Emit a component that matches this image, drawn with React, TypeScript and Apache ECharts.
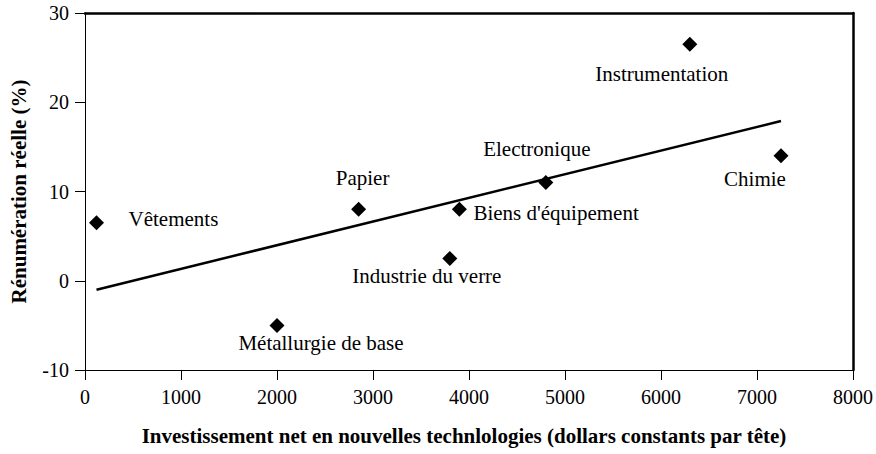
import React, { useEffect, useRef } from "react";
import * as echarts from "echarts";

const industries = [
  "Vêtements",
  "Métallurgie de base",
  "Papier",
  "Industrie du verre",
  "Biens d'équipement",
  "Electronique",
  "Instrumentation",
  "Chimie",
];
const investment = [120, 2000, 2850, 3800, 3900, 4800, 6300, 7250];
const remuneration = [6.5, -5, 8, 2.5, 8, 11, 26.5, 14];
const trendX = [120, 7250];
const trendY = [-1, 17.9];
const xTicks = [0, 1000, 2000, 3000, 4000, 5000, 6000, 7000, 8000];
const yTicks = [-10, 0, 10, 20, 30];

// label placement (style only): [align, dx, dy]
const labelPlacement: [string, number, number][] = [
  ["left", 32, -4],
  ["center", 44, 18],
  ["center", 4, -31],
  ["center", -23, 18],
  ["left", 14, 4],
  ["center", -9, -34],
  ["center", -28, 30],
  ["center", -26, 23],
];

const FONT = "Liberation Serif";
const FS = 21;
const TICK_FS = 20;

export default function App() {
  const ref = useRef<HTMLDivElement>(null);
  useEffect(() => {
    if (!ref.current) return;
    const chart = echarts.init(ref.current, undefined, { renderer: "svg" });
    const points = industries.map((name, i) => ({
      name,
      value: [investment[i], remuneration[i]],
      label: {
        show: true,
        position: "inside",
        formatter: name,
        align: labelPlacement[i][0],
        offset: [labelPlacement[i][1], labelPlacement[i][2]],
        color: "#000",
        fontFamily: FONT,
        fontSize: FS,
      },
    }));
    const fmt = (v: number) => String(v);
    chart.setOption({
      animation: false,
      backgroundColor: "#fff",
      grid: { left: 81, right: 21, top: 13, bottom: 84, containLabel: false },
      xAxis: [
        {
          type: "value",
          min: xTicks[0],
          max: xTicks[xTicks.length - 1],
          interval: 1000,
          name: "Investissement net en nouvelles technlologies (dollars constants par tête)",
          nameLocation: "middle",
          nameGap: 55,
          nameTextStyle: { fontFamily: FONT, fontSize: 21, fontWeight: "bold", color: "#000", padding: [0, 10, 0, 0] },
          axisLine: { show: true, onZero: false, lineStyle: { color: "#000", width: 1 } },
          axisTick: { show: true, inside: false, length: 10, lineStyle: { color: "#000" } },
          axisLabel: { margin: 17, fontFamily: FONT, fontSize: TICK_FS, color: "#000", formatter: fmt },
          splitLine: { show: false },
        },
        {
          type: "value",
          position: "top",
          min: xTicks[0],
          max: xTicks[xTicks.length - 1],
          interval: 1000,
          axisLine: { show: true, onZero: false, lineStyle: { color: "#000", width: 2.5 } },
          axisTick: { show: false },
          axisLabel: { show: false },
          splitLine: { show: false },
        },
      ],
      yAxis: [
        {
          type: "value",
          min: yTicks[0],
          max: yTicks[yTicks.length - 1],
          interval: 10,
          name: "Rénumération réelle (%)",
          nameLocation: "middle",
          nameGap: 56,
          nameTextStyle: { fontFamily: FONT, fontSize: 21, fontWeight: "bold", color: "#000" },
          axisLine: { show: true, onZero: false, lineStyle: { color: "#000", width: 1 } },
          axisTick: { show: true, inside: false, length: 10, lineStyle: { color: "#000" } },
          axisLabel: { margin: 16, fontFamily: FONT, fontSize: TICK_FS, color: "#000", formatter: fmt },
          splitLine: { show: false },
        },
        {
          type: "value",
          position: "right",
          min: yTicks[0],
          max: yTicks[yTicks.length - 1],
          interval: 10,
          axisLine: { show: true, onZero: false, lineStyle: { color: "#000", width: 2.5 } },
          axisTick: { show: false },
          axisLabel: { show: false },
          splitLine: { show: false },
        },
      ],
      series: [
        {
          type: "line",
          data: trendX.map((x, i) => [x, trendY[i]]),
          showSymbol: false,
          symbol: "none",
          lineStyle: { color: "#000", width: 2.5 },
          silent: true,
          z: 2,
        },
        {
          type: "scatter",
          symbol: "diamond",
          symbolSize: 15,
          itemStyle: { color: "#000", opacity: 1 },
          data: points,
          z: 3,
        },
      ],
    });
    return () => chart.dispose();
  }, []);
  return (
    <div
      ref={ref}
      style={{ position: "absolute", left: 0, top: 0, width: 876, height: 454 }}
    />
  );
}
